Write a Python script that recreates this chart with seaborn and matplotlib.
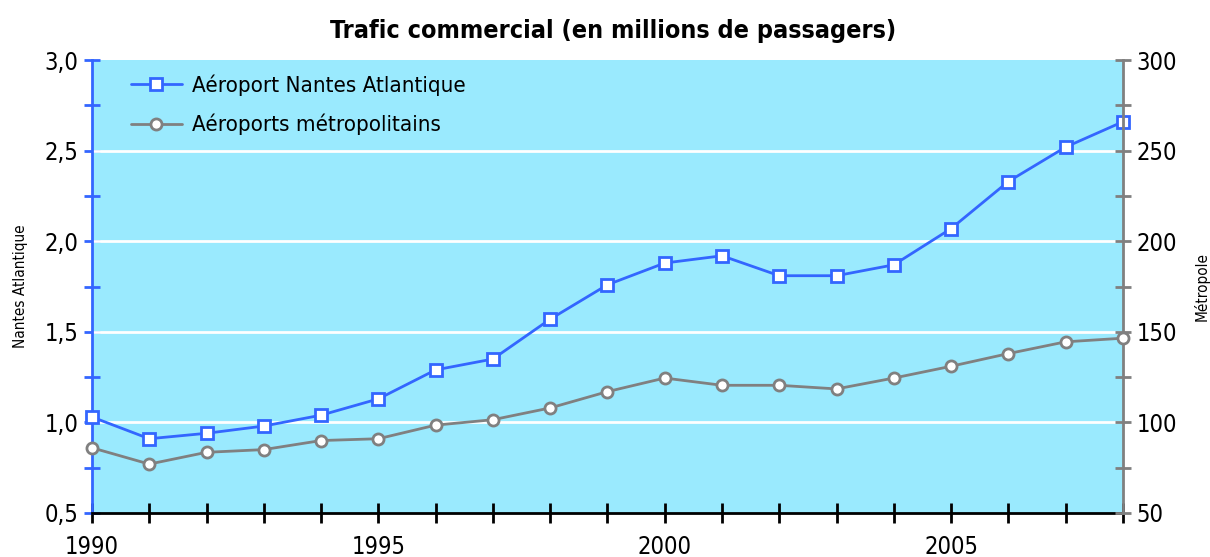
import matplotlib
matplotlib.use("Agg")
import matplotlib.pyplot as plt
import seaborn as sns
import pandas as pd
from matplotlib.ticker import MultipleLocator, FuncFormatter

# ---------------------------------------------------
# DATA
# ---------------------------------------------------

years = list(range(1990, 2009))

nantes = [1.03, 0.91, 0.94, 0.98, 1.04, 1.13, 1.29, 1.35, 1.57, 1.76,
          1.88, 1.92, 1.81, 1.81, 1.87, 2.07, 2.33, 2.52, 2.66]

metropole = [86, 77, 83.5, 85, 90, 91, 98.5, 101.5, 108, 117,
             124.5, 120.5, 120.5, 118.5, 124.5, 131, 138, 144.5, 146.5]

label_nantes = "Aéroport Nantes Atlantique"
label_metro = "Aéroports métropolitains"
xticks_major = [1990, 1995, 2000, 2005]

BLUE = "#3366FF"
GREY = "#808080"
BG = "#9AEAFE"

# ---------------------------------------------------
# PLOT
# ---------------------------------------------------

sns.set_style("white")
plt.rcParams["font.family"] = ["DejaVu Sans"]
plt.rcParams["font.stretch"] = "condensed"
plt.rcParams["text.color"] = "black"
plt.rcParams["xtick.color"] = "black"
plt.rcParams["ytick.color"] = "black"
plt.rcParams["axes.labelcolor"] = "black"

df = pd.DataFrame({"annee": years, "nantes": nantes, "metro": metropole})

fig = plt.figure(figsize=(12.1, 5.57), dpi=100)
ax = fig.add_axes([0.076, 0.079, 0.852, 0.813])
ax.set_facecolor(BG)

# white horizontal grid on left major ticks
for v in [1.0, 1.5, 2.0, 2.5]:
    ax.axhline(v, color="white", lw=2, zorder=1)

sns.lineplot(data=df, x="annee", y="nantes", ax=ax, color=BLUE, lw=2,
             marker="s", markersize=8, markerfacecolor="white",
             markeredgecolor=BLUE, markeredgewidth=2, label=label_nantes,
             clip_on=False, zorder=5, legend=False)

ax2 = ax.twinx()
sns.lineplot(data=df, x="annee", y="metro", ax=ax2, color=GREY, lw=2,
             marker="o", markersize=8, markerfacecolor="white",
             markeredgecolor=GREY, markeredgewidth=2, label=label_metro,
             clip_on=False, zorder=4, legend=False)

ax.set_xlim(1990, 2008)
ax.set_ylim(0.5, 3.0)
ax2.set_ylim(50, 300)

# left axis
ax.yaxis.set_major_locator(MultipleLocator(0.5))
ax.yaxis.set_minor_locator(MultipleLocator(0.25))
ax.yaxis.set_major_formatter(FuncFormatter(lambda v, p: f"{v:.1f}".replace(".", ",")))
ax.set_xticks(xticks_major)
ax.set_xticks(years, minor=True)

ax.tick_params(axis="y", which="both", left=True, direction="inout", length=12,
               width=2, color=BLUE, labelsize=17, pad=4)
ax.tick_params(axis="x", which="both", bottom=True, direction="inout", length=14,
               width=2, color="black", labelsize=17, pad=9)

# right axis
ax2.yaxis.set_major_locator(MultipleLocator(50))
ax2.yaxis.set_minor_locator(MultipleLocator(25))
ax2.tick_params(axis="y", which="both", right=True, direction="inout", length=12,
                width=2, color=GREY, labelsize=17, pad=4)

ax.spines["top"].set_visible(False)
ax2.spines["top"].set_visible(False)
ax.spines["left"].set_color(BLUE)
ax.spines["left"].set_linewidth(2)
ax.spines["bottom"].set_color("black")
ax.spines["bottom"].set_linewidth(2)
ax.spines["right"].set_visible(False)
ax2.spines["left"].set_visible(False)
ax2.spines["bottom"].set_visible(False)
ax2.spines["right"].set_color(GREY)
ax2.spines["right"].set_linewidth(2)

ax.set_xlabel("")
ax.set_ylabel("Nantes Atlantique", fontsize=11, labelpad=12)
ax2.set_ylabel("Métropole", fontsize=11, labelpad=12)

ax.set_title("Trafic commercial (en millions de passagers)", fontsize=18,
             fontweight="bold", pad=16, x=0.505)

# legend combining both axes
h1, l1 = ax.get_legend_handles_labels()
h2, l2 = ax2.get_legend_handles_labels()
leg = ax.legend(h1 + h2, l1 + l2, loc="upper left", frameon=False,
                fontsize=16, handlelength=2.3, handletextpad=0.45,
                bbox_to_anchor=(0.018, 1.012), labelspacing=0.8)

fig.savefig("out.png", dpi=100)
